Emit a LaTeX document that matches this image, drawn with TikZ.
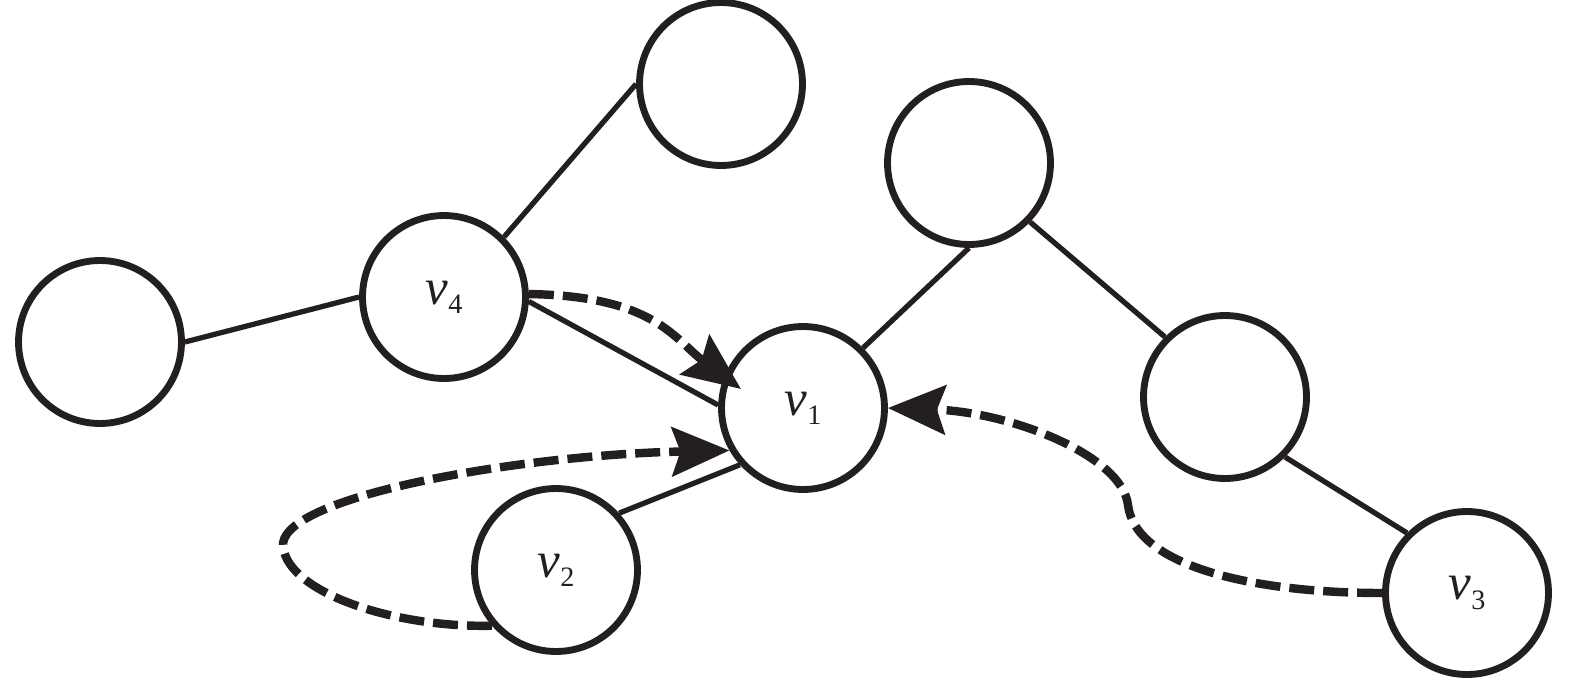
\documentclass[tikz,border=0pt]{standalone}
\usepackage{fontspec}
\setmainfont{Liberation Serif}
\usetikzlibrary{arrows.meta}
\definecolor{ink}{HTML}{231F20}
\newcommand{\vlab}[1]{\fontsize{29}{30}\selectfont\itshape v\/\raisebox{-0.4ex}{\fontsize{16}{17}\selectfont\upshape #1}}
\begin{document}
\begin{tikzpicture}[x=0.02cm,y=-0.02cm,
  vtx/.style={circle, draw=ink, line width=3.9pt, minimum size=3.26cm, inner sep=0pt, text=ink},
  edge/.style={line width=3pt, draw=ink},
  flow/.style={line width=4.8pt, draw=ink, dash pattern=on 0.5cm off 0.18cm,
    -{Stealth[length=1.15cm,width=0.98cm,inset=0.17cm,fill=ink]}}]
\useasboundingbox (0,0) rectangle (1575,680);
\node[vtx] (top) at (721,84) {};
\node[vtx] (tm) at (969,163) {};
\node[vtx] (v4) at (444,297) {\vlab{4}};
\node[vtx] (left) at (100,342) {};
\node[vtx] (v1) at (803,408) {\vlab{1}};
\node[vtx] (rm) at (1225,397) {};
\node[vtx] (v2) at (556,570) {\vlab{2}};
\node[vtx] (v3) at (1467,593) {\vlab{3}};
\coordinate (t1) at (741,389);
% solid edges
\draw[edge] (v4.45) -- (top.180);
\draw[edge] (left.0) -- (v4.180);
\draw[edge] (v4.-3) -- (v1.178);
\draw[edge] (v1.45) -- (tm.270);
\draw[edge] (tm.-44) -- (rm.135);
\draw[edge] (rm.-45) -- (v3.135);
\draw[edge] (v1.222) -- (v2.42);
% dashed arrows
\draw[flow] (v4.2) .. controls (655,296) and (675,340) .. (t1);
\draw[flow] (v2.221) .. controls (390,628) and (282,590) .. (283,543)
  .. controls (290,495) and (520,455) .. (v1.210);
\draw[flow] (v3.180) .. controls (1250,593) and (1135,565) .. (1128,505)
  .. controls (1122,455) and (1010,412) .. (v1.east);
\end{tikzpicture}
\end{document}
